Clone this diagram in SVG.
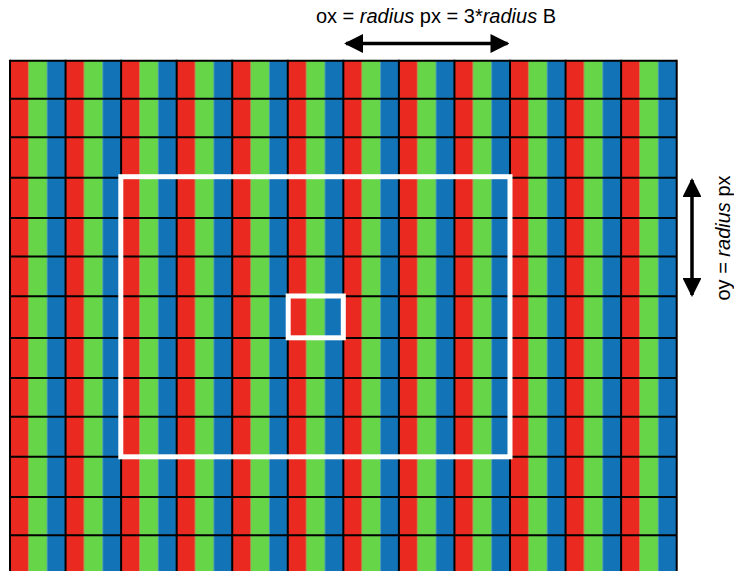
<svg xmlns="http://www.w3.org/2000/svg" width="734" height="571" viewBox="0 0 734 571">
<defs>
<style>
.r{fill:#EA2920}.g{fill:#66D548}.b{fill:#1273B7}
.grid{stroke:#000;stroke-width:2;fill:none}
.hl{stroke:#fff;stroke-width:5;fill:none}
.lbl{font-family:"Liberation Sans",Arial,sans-serif;font-size:20px;fill:#000}
.arrow{stroke:#000;stroke-width:3.5;fill:none;marker-start:url(#ah);marker-end:url(#ah)}
</style>
<marker id="ah" viewBox="0 0 10 10" refX="9" refY="5" markerWidth="5.4" markerHeight="5.4" orient="auto-start-reverse" markerUnits="strokeWidth">
<path d="M0,0 L10,5 L0,10 Z" fill="#000"/>
</marker>
<pattern id="px" x="10" y="0" width="55.556" height="571" patternUnits="userSpaceOnUse">
<rect class="r" x="0" y="0" width="18.6" height="571"/>
<rect class="g" x="18.52" y="0" width="18.6" height="571"/>
<rect class="b" x="37.04" y="0" width="18.6" height="571"/>
</pattern>
</defs>
<rect width="734" height="571" fill="#fff"/>
<g id="subpixels">
<rect x="10" y="60" width="666.7" height="511" fill="url(#px)"/>
</g>
<g id="gridlines" class="grid">
<path d="M10,60.7H676.7 M10,98.7H676.7 M10,137.3H676.7 M10,177.7H676.7 M10,218H676.7 M10,256.5H676.7 M10,296.3H676.7 M10,338H676.7 M10,378H676.7 M10,416.7H676.7 M10,456.7H676.7 M10,497H676.7 M10,535.3H676.7"/>
<path d="M10,59.7V571 M65.56,59.7V571 M121.11,59.7V571 M176.67,59.7V571 M232.22,59.7V571 M287.78,59.7V571 M343.33,59.7V571 M398.89,59.7V571 M454.44,59.7V571 M510,59.7V571 M565.56,59.7V571 M621.11,59.7V571 M676.7,59.7V571"/>
</g>
<g id="region-large">
<rect class="hl" x="120.8" y="176.7" width="389.2" height="280.1"/>
</g>
<g id="region-small">
<rect class="hl" x="288.2" y="296" width="55.1" height="41.8"/>
</g>
<g id="connectors">
<path class="arrow" d="M346,43.5H507.5"/>
<path class="arrow" d="M692,180V295"/>
</g>
<g id="label-ox">
<text class="lbl" x="436" y="23" text-anchor="middle">ox = <tspan font-style="italic">radius</tspan> px = 3*<tspan font-style="italic">radius</tspan> B</text>
</g>
<g id="label-oy">
<text class="lbl" transform="translate(730,238) rotate(-90)" text-anchor="middle">oy = <tspan font-style="italic">radius</tspan> px</text>
</g>
</svg>
